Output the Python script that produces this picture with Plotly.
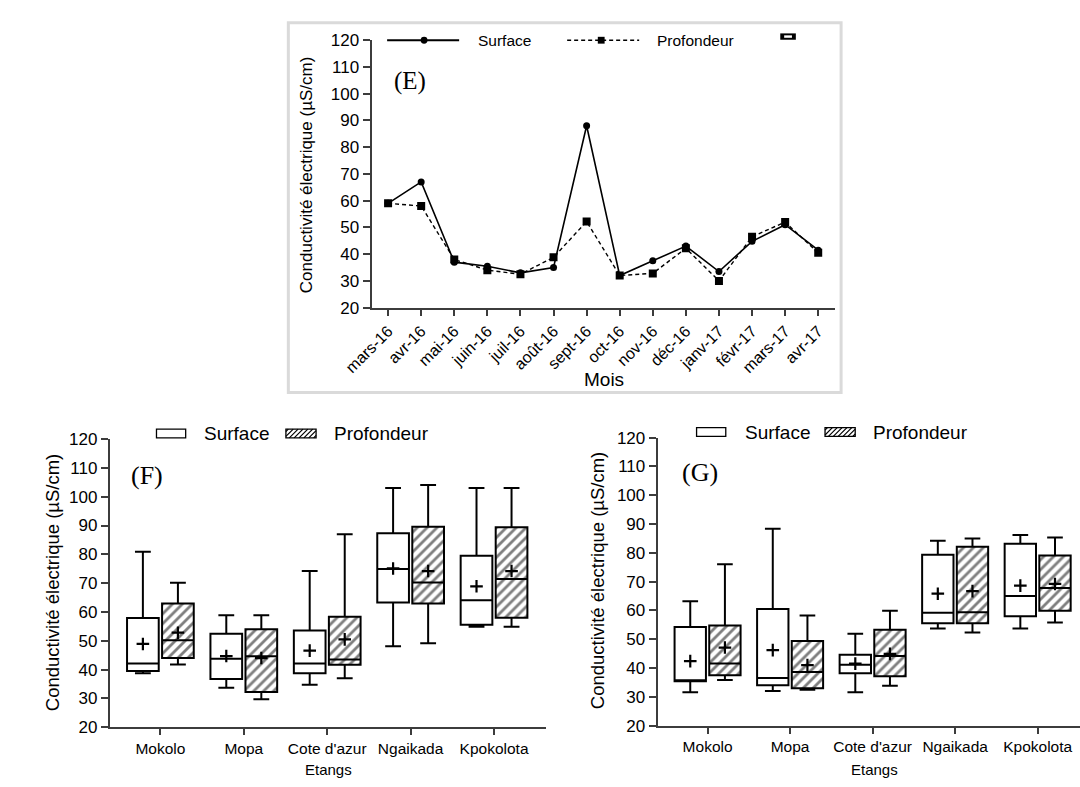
import plotly.graph_objects as go

W, H = 1080, 787

# ---------------- (E) monthly electrical conductivity ----------------
mois = ["mars-16", "avr-16", "mai-16", "juin-16", "juil-16", "août-16", "sept-16",
        "oct-16", "nov-16", "déc-16", "janv-17", "févr-17", "mars-17", "avr-17"]
surface_mois = [59, 67, 37, 35.5, 33, 35, 88, 32, 37.5, 43, 33.5, 44.8, 51, 41.5]
profondeur_mois = [59, 58, 38, 34, 32.5, 38.8, 52.2, 32, 32.8, 42.2, 30, 46.5, 52, 40.5]

# ---------------- (F) and (G) box statistics per pond ----------------
etangs = ["Mokolo", "Mopa", "Cote d'azur", "Ngaikada", "Kpokolota"]

F_surf = dict(low=[38.7, 33.7, 34.7, 48.1, 54.9], q1=[39.5, 36.7, 38.7, 63.3, 55.6],
              med=[42.1, 43.8, 42.1, 74.9, 64.1], q3=[57.9, 52.4, 53.6, 87.3, 79.5],
              high=[80.9, 58.9, 74.2, 103.0, 103.0], mean=[48.9, 44.7, 46.6, 75.1, 68.9])
F_prof = dict(low=[41.8, 29.7, 37.0, 49.1, 54.9], q1=[44.0, 32.2, 41.7, 62.9, 58.0],
              med=[50.2, 44.6, 43.5, 70.2, 71.4], q3=[62.9, 54.0, 58.3, 89.6, 89.4],
              high=[70.1, 58.9, 87.0, 104.1, 103.0], mean=[52.8, 44.0, 50.5, 74.2, 74.2])

G_surf = dict(low=[31.6, 32.0, 31.6, 53.7, 53.7], q1=[35.4, 34.0, 38.2, 55.5, 58.0],
              med=[35.4, 36.5, 41.1, 59.2, 65.0], q3=[54.2, 60.5, 44.6, 79.3, 83.2],
              high=[63.2, 88.4, 51.9, 84.2, 86.2], mean=[42.4, 46.2, 41.5, 65.8, 68.6])
G_prof = dict(low=[35.8, 32.4, 33.8, 52.3, 55.8], q1=[37.5, 33.0, 37.1, 55.5, 59.9],
              med=[41.6, 38.6, 44.2, 59.4, 67.8], q3=[54.8, 49.4, 53.3, 82.1, 79.1],
              high=[76.0, 58.2, 59.9, 85.0, 85.3], mean=[47.1, 41.0, 44.9, 66.7, 69.2])

FONT = "Liberation Sans, Arial, sans-serif"
SERIF = "Liberation Serif, Times New Roman, serif"
AX = "#3c3c3c"
BOX_W = 0.38
OFF = 0.21


def px(x):
    return x / W


def py(y):
    return 1 - y / H


fig = go.Figure()

# (E) lines
fig.add_trace(go.Scatter(
    x=mois, y=surface_mois, mode="lines+markers", name="Surface",
    line=dict(color="black", width=1.6),
    marker=dict(symbol="circle", size=7, color="black"),
    xaxis="x", yaxis="y"))
fig.add_trace(go.Scatter(
    x=mois, y=profondeur_mois, mode="lines+markers", name="Profondeur",
    line=dict(color="black", width=1.4, dash="4px,3px"),
    marker=dict(symbol="square", size=8, color="black"),
    xaxis="x", yaxis="y"))


def add_boxes(surf, prof, xa, ya):
    idx = list(range(len(etangs)))
    xs = [i - OFF for i in idx]
    xp = [i + OFF for i in idx]
    # hatched fill of the "Profondeur" boxes
    fig.add_trace(go.Bar(
        x=xp, y=[b - a for a, b in zip(prof["q1"], prof["q3"])], base=prof["q1"],
        width=BOX_W, xaxis=xa, yaxis=ya, hoverinfo="skip",
        marker=dict(color="white", line=dict(width=0),
                    pattern=dict(shape="/", fgcolor="black", bgcolor="white",
                                 size=7, solidity=0.4))))
    fig.add_trace(go.Box(
        x=xs, q1=surf["q1"], median=surf["med"], q3=surf["q3"],
        lowerfence=surf["low"], upperfence=surf["high"],
        width=BOX_W, whiskerwidth=0.5, fillcolor="white", boxpoints=False,
        line=dict(color="black", width=2), xaxis=xa, yaxis=ya, name="Surface"))
    fig.add_trace(go.Box(
        x=xp, q1=prof["q1"], median=prof["med"], q3=prof["q3"],
        lowerfence=prof["low"], upperfence=prof["high"],
        width=BOX_W, whiskerwidth=0.5, fillcolor="rgba(0,0,0,0)", boxpoints=False,
        line=dict(color="black", width=2), xaxis=xa, yaxis=ya, name="Profondeur"))
    fig.add_trace(go.Scatter(
        x=xs + xp, y=surf["mean"] + prof["mean"], mode="markers",
        marker=dict(symbol="cross-thin", size=9, color="black",
                    line=dict(width=2.2, color="black")),
        xaxis=xa, yaxis=ya, hoverinfo="skip"))


add_boxes(F_surf, F_prof, "x2", "y2")
add_boxes(G_surf, G_prof, "x3", "y3")

yticks = list(range(20, 121, 10))
common_y = dict(range=[20, 120], tickvals=yticks, showline=True, linecolor=AX, linewidth=2,
                ticks="outside", ticklen=7, tickwidth=2, tickcolor=AX, showgrid=False,
                zeroline=False, tickfont=dict(family=FONT, size=17, color="black"))
common_x = dict(showline=True, linecolor=AX, linewidth=2, ticks="outside", ticklen=6,
                tickwidth=2, tickcolor=AX, showgrid=False, zeroline=False)

fig.update_layout(
    width=W, height=H, margin=dict(l=0, r=0, t=0, b=0),
    paper_bgcolor="white", plot_bgcolor="white", showlegend=False,
    barmode="overlay", boxmode="overlay",
    xaxis=dict(domain=[px(352), px(828)], anchor="y", type="category",
               range=[-0.5, 13.5], tickangle=-45,
               tickfont=dict(family=FONT, size=16, color="black"), **common_x),
    yaxis=dict(domain=[py(306), py(32)], anchor="x", **common_y),
    xaxis2=dict(domain=[px(83), px(531)], anchor="y2", range=[-0.607, 4.62],
                tickvals=list(range(len(etangs))), ticktext=etangs,
                tickfont=dict(family=FONT, size=15.5, color="black"), **common_x),
    yaxis2=dict(domain=[py(736), py(440.7)], anchor="x2", **common_y),
    xaxis3=dict(domain=[px(646), 1.0], anchor="y3", range=[-0.605, 4.513],
                tickvals=list(range(len(etangs))), ticktext=etangs,
                tickfont=dict(family=FONT, size=15.5, color="black"), **common_x),
    yaxis3=dict(domain=[py(734.3), py(439.3)], anchor="x3", **common_y),
)

shapes = []
ann = []

# frame around panel (E)
shapes.append(dict(type="rect", xref="paper", yref="paper",
                   x0=px(266.5), x1=px(834.5), y0=py(393), y1=py(14),
                   line=dict(color="#dadada", width=3)))

# legend of panel (E)
shapes.append(dict(type="line", xref="paper", yref="paper", x0=px(368), x1=px(442),
                   y0=py(32), y1=py(32), line=dict(color="black", width=1.8)))
shapes.append(dict(type="circle", xref="paper", yref="paper", x0=px(402.5), x1=px(409.5),
                   y0=py(35.5), y1=py(28.5), fillcolor="black", line=dict(width=0)))
shapes.append(dict(type="line", xref="paper", yref="paper", x0=px(553), x1=px(627),
                   y0=py(32), y1=py(32), line=dict(color="black", width=1.4, dash="4px,3px")))
shapes.append(dict(type="rect", xref="paper", yref="paper", x0=px(584.5), x1=px(591.5),
                   y0=py(35.5), y1=py(28.5), fillcolor="black", line=dict(width=0)))
ann.append(dict(text="Surface", x=px(459), y=py(32), xanchor="left", yanchor="middle"))
ann.append(dict(text="Profondeur", x=px(643), y=py(32), xanchor="left", yanchor="middle"))
# partially hidden glyph at the top right of panel (E)
shapes.append(dict(type="rect", xref="paper", yref="paper", x0=px(772), x1=px(788),
                   y0=py(31.5), y1=py(25), fillcolor="black", line=dict(width=0)))
shapes.append(dict(type="rect", xref="paper", yref="paper", x0=px(776), x1=px(784),
                   y0=py(29.5), y1=py(27), fillcolor="white", line=dict(width=0)))
for a in ann:
    a.update(xref="paper", yref="paper", showarrow=False,
             font=dict(family=FONT, size=15.5, color="black"))


def hatch_path(x0, y0, x1, y1, step):
    parts = []
    k = x0 + y0 + step / 2
    while k < x1 + y1:
        ya = max(y0, k - x1)
        yb = min(y1, k - x0)
        if ya < yb:
            parts.append("M%.5f,%.5f L%.5f,%.5f" % (px(k - ya), py(ya), px(k - yb), py(yb)))
        k += step
    return " ".join(parts)


def box_legend(xw, xh, xt1, xt2, yc):
    y0, y1 = yc - 4.5, yc + 4.5
    shapes.append(dict(type="rect", xref="paper", yref="paper", x0=px(xw), x1=px(xw + 30),
                       y0=py(y1), y1=py(y0), fillcolor="white",
                       line=dict(color="black", width=1.3)))
    shapes.append(dict(type="path", xref="paper", yref="paper",
                       path=hatch_path(xh, y0, xh + 31, y1, 5),
                       line=dict(color="black", width=1.2)))
    shapes.append(dict(type="rect", xref="paper", yref="paper", x0=px(xh), x1=px(xh + 31),
                       y0=py(y1), y1=py(y0), line=dict(color="black", width=1.3)))
    for t, xx in (("Surface", xt1), ("Profondeur", xt2)):
        ann.append(dict(text=t, x=px(xx), y=py(yc), xref="paper", yref="paper",
                        xanchor="left", yanchor="middle", showarrow=False,
                        font=dict(family=FONT, size=19, color="black")))


box_legend(131, 264, 178, 311, 435)
box_legend(686, 818, 734, 865, 433.5)

# panel letters
for t, x, y, s in (("(E)", 392, 74, 25), ("(F)", 121, 478, 26), ("(G)", 690, 475, 26)):
    ann.append(dict(text=t, x=px(x), y=py(y), xref="paper", yref="paper", showarrow=False,
                    xanchor="center", yanchor="middle",
                    font=dict(family=SERIF, size=s, color="black")))

# axis titles
ytitle = "Conductivité électrique (µS/cm)"
for x, y, s in ((286, 170, 17), (24, 588, 18.5), (585, 586, 18.5)):
    ann.append(dict(text=ytitle, x=px(x), y=py(y), xref="paper", yref="paper",
                    showarrow=False, textangle=-90, xanchor="center", yanchor="middle",
                    font=dict(family=FONT, size=s, color="black")))
ann.append(dict(text="Mois", x=px(591), y=py(380), xref="paper", yref="paper",
                showarrow=False, xanchor="center", yanchor="middle",
                font=dict(family=FONT, size=19, color="black")))
for x in (308, 869):
    ann.append(dict(text="Etangs", x=px(x), y=py(779), xref="paper", yref="paper",
                    showarrow=False, xanchor="center", yanchor="middle",
                    font=dict(family=FONT, size=15, color="black")))

fig.update_layout(shapes=shapes, annotations=ann)
fig.write_html("out.html")
